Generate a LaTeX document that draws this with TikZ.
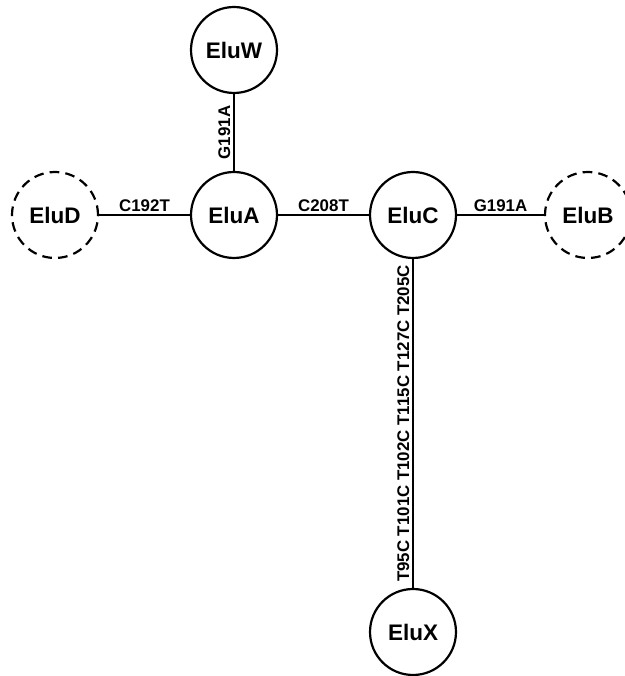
\documentclass[tikz,border=0pt]{standalone}
\usepackage{fontspec}
\setmainfont{Liberation Sans}
\usepackage{tikz}

\begin{document}
\begin{tikzpicture}[x=0.02cm, y=0.02cm, line width=1.25pt,
    elu/.style={shape=circle, draw, minimum size=1.72cm, inner sep=0pt,
                font=\fontsize{12.8}{15}\selectfont\bfseries},
    ghost/.style={elu, dash pattern=on 5.5pt off 3.5pt},
    mut/.style={font=\fontsize{9.6}{11}\selectfont\bfseries, inner sep=1.5pt}]

  \useasboundingbox (0,0) rectangle (625,676);

  \node (eluW) at (234,626) [elu] {EluW};
  \node (eluA) at (234,461) [elu] {EluA};
  \node (eluC) at (413,461) [elu] {EluC};
  \node (eluD) at (55,461)  [ghost] {EluD};
  \node (eluB) at (588,461) [ghost] {EluB};
  \node (eluX) at (413,44)  [elu] {EluX};

  \draw (eluA) -- node [mut, above, sloped] {G191A} (eluW);
  \draw (eluD) -- node [mut, above] {C192T} (eluA);
  \draw (eluA) -- node [mut, above] {C208T} (eluC);
  \draw (eluC) -- node [mut, above] {G191A} (eluB);
  \draw (eluX) -- node [mut, above, sloped]
        {T95C T101C T102C T115C T127C T205C} (eluC);
\end{tikzpicture}
\end{document}
